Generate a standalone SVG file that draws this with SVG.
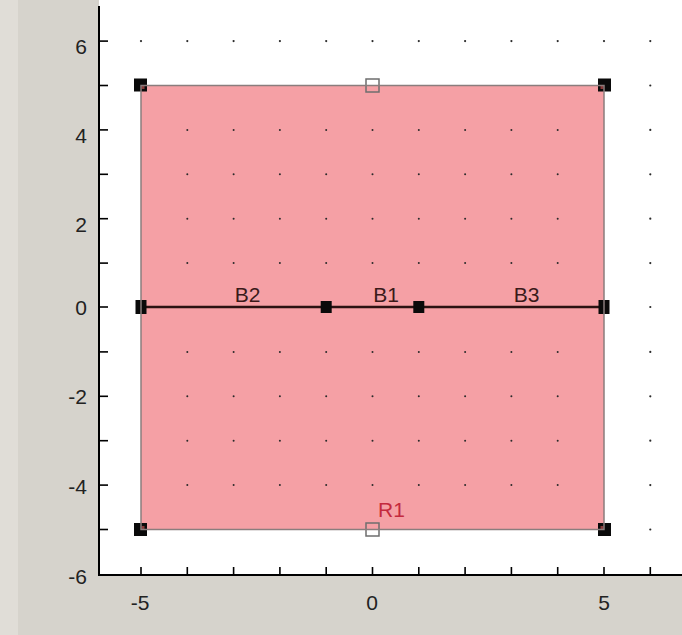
<svg xmlns="http://www.w3.org/2000/svg" width="682" height="635" viewBox="0 0 682 635">
<style>
.dot{fill:#2a2a2a}
.ax{stroke:#000;stroke-width:2;fill:none}
.tk{stroke:#000;stroke-width:1.6}
.al{font-family:"Liberation Sans",Arial,sans-serif;font-size:21px;fill:#222}
.lbl{font-family:"Liberation Sans",Arial,sans-serif;font-size:21px;fill:#3a1a1a;text-anchor:middle}
.hd{fill:#0a0a0a}
.hollow{fill:none;stroke:#6e6e6e;stroke-width:1.5}
.seg{stroke:#2b1212;stroke-width:2.6}
</style>
<!-- background -->
<rect x="0" y="0" width="682" height="635" fill="#d6d3cc"/>
<rect x="0" y="0" width="18" height="635" fill="#e0ddd7"/>
<rect x="99" y="0" width="583" height="575" fill="#ffffff"/>

<!-- outer grid dots -->
<g id="grid-outer">
<circle class="dot" cx="141" cy="41.1" r="1.1"/><circle class="dot" cx="187.3" cy="41.1" r="1.1"/><circle class="dot" cx="233.6" cy="41.1" r="1.1"/><circle class="dot" cx="279.9" cy="41.1" r="1.1"/><circle class="dot" cx="326.2" cy="41.1" r="1.1"/><circle class="dot" cx="372.5" cy="41.1" r="1.1"/><circle class="dot" cx="418.8" cy="41.1" r="1.1"/><circle class="dot" cx="465.1" cy="41.1" r="1.1"/><circle class="dot" cx="511.4" cy="41.1" r="1.1"/><circle class="dot" cx="557.7" cy="41.1" r="1.1"/><circle class="dot" cx="604" cy="41.1" r="1.1"/><circle class="dot" cx="650.3" cy="41.1" r="1.1"/>
<circle class="dot" cx="650.3" cy="85.5" r="1.1"/><circle class="dot" cx="650.3" cy="129.9" r="1.1"/><circle class="dot" cx="650.3" cy="174.3" r="1.1"/><circle class="dot" cx="650.3" cy="218.7" r="1.1"/><circle class="dot" cx="650.3" cy="263.1" r="1.1"/><circle class="dot" cx="650.3" cy="307" r="1.1"/><circle class="dot" cx="650.3" cy="351.9" r="1.1"/><circle class="dot" cx="650.3" cy="396.3" r="1.1"/><circle class="dot" cx="650.3" cy="440.7" r="1.1"/><circle class="dot" cx="650.3" cy="485.1" r="1.1"/><circle class="dot" cx="650.3" cy="529.5" r="1.1"/>
</g>

<!-- axes -->
<g id="axes">
<line class="ax" x1="99" y1="6" x2="99" y2="575"/>
<line class="ax" x1="98" y1="575" x2="682" y2="575"/>
<g class="tk">
<line x1="99" y1="41.1" x2="108" y2="41.1"/><line x1="99" y1="85.5" x2="108" y2="85.5"/><line x1="99" y1="129.9" x2="108" y2="129.9"/><line x1="99" y1="174.3" x2="108" y2="174.3"/><line x1="99" y1="218.7" x2="108" y2="218.7"/><line x1="99" y1="263.1" x2="108" y2="263.1"/><line x1="99" y1="307" x2="108" y2="307"/><line x1="99" y1="351.9" x2="108" y2="351.9"/><line x1="99" y1="396.3" x2="108" y2="396.3"/><line x1="99" y1="440.7" x2="108" y2="440.7"/><line x1="99" y1="485.1" x2="108" y2="485.1"/><line x1="99" y1="529.5" x2="108" y2="529.5"/>
<line x1="141" y1="567" x2="141" y2="575"/><line x1="187.3" y1="567" x2="187.3" y2="575"/><line x1="233.6" y1="567" x2="233.6" y2="575"/><line x1="279.9" y1="567" x2="279.9" y2="575"/><line x1="326.2" y1="567" x2="326.2" y2="575"/><line x1="372.5" y1="567" x2="372.5" y2="575"/><line x1="418.8" y1="567" x2="418.8" y2="575"/><line x1="465.1" y1="567" x2="465.1" y2="575"/><line x1="511.4" y1="567" x2="511.4" y2="575"/><line x1="557.7" y1="567" x2="557.7" y2="575"/><line x1="604" y1="567" x2="604" y2="575"/><line x1="650.3" y1="567" x2="650.3" y2="575"/>
</g>
<g class="al" text-anchor="end">
<text x="87" y="54">6</text>
<text x="87" y="143">4</text>
<text x="87" y="232">2</text>
<text x="87" y="315">0</text>
<text x="87" y="404">-2</text>
<text x="87" y="494">-4</text>
<text x="87" y="584">-6</text>
</g>
<g class="al" text-anchor="middle">
<text x="140" y="610">-5</text>
<text x="372" y="610">0</text>
<text x="604" y="610">5</text>
</g>
</g>

<!-- region R1 -->
<g id="R1">
<rect x="141" y="85.5" width="463" height="444" fill="#f5a0a5"/>
<g id="grid-inner">
<circle class="dot" cx="187.3" cy="129.9" r="1"/><circle class="dot" cx="233.6" cy="129.9" r="1"/><circle class="dot" cx="279.9" cy="129.9" r="1"/><circle class="dot" cx="326.2" cy="129.9" r="1"/><circle class="dot" cx="372.5" cy="129.9" r="1"/><circle class="dot" cx="418.8" cy="129.9" r="1"/><circle class="dot" cx="465.1" cy="129.9" r="1"/><circle class="dot" cx="511.4" cy="129.9" r="1"/><circle class="dot" cx="557.7" cy="129.9" r="1"/>
<circle class="dot" cx="187.3" cy="174.3" r="1"/><circle class="dot" cx="233.6" cy="174.3" r="1"/><circle class="dot" cx="279.9" cy="174.3" r="1"/><circle class="dot" cx="326.2" cy="174.3" r="1"/><circle class="dot" cx="372.5" cy="174.3" r="1"/><circle class="dot" cx="418.8" cy="174.3" r="1"/><circle class="dot" cx="465.1" cy="174.3" r="1"/><circle class="dot" cx="511.4" cy="174.3" r="1"/><circle class="dot" cx="557.7" cy="174.3" r="1"/>
<circle class="dot" cx="187.3" cy="218.7" r="1"/><circle class="dot" cx="233.6" cy="218.7" r="1"/><circle class="dot" cx="279.9" cy="218.7" r="1"/><circle class="dot" cx="326.2" cy="218.7" r="1"/><circle class="dot" cx="372.5" cy="218.7" r="1"/><circle class="dot" cx="418.8" cy="218.7" r="1"/><circle class="dot" cx="465.1" cy="218.7" r="1"/><circle class="dot" cx="511.4" cy="218.7" r="1"/><circle class="dot" cx="557.7" cy="218.7" r="1"/>
<circle class="dot" cx="187.3" cy="263.1" r="1"/><circle class="dot" cx="233.6" cy="263.1" r="1"/><circle class="dot" cx="279.9" cy="263.1" r="1"/><circle class="dot" cx="326.2" cy="263.1" r="1"/><circle class="dot" cx="372.5" cy="263.1" r="1"/><circle class="dot" cx="418.8" cy="263.1" r="1"/><circle class="dot" cx="465.1" cy="263.1" r="1"/><circle class="dot" cx="511.4" cy="263.1" r="1"/><circle class="dot" cx="557.7" cy="263.1" r="1"/>
<circle class="dot" cx="187.3" cy="351.9" r="1"/><circle class="dot" cx="233.6" cy="351.9" r="1"/><circle class="dot" cx="279.9" cy="351.9" r="1"/><circle class="dot" cx="326.2" cy="351.9" r="1"/><circle class="dot" cx="372.5" cy="351.9" r="1"/><circle class="dot" cx="418.8" cy="351.9" r="1"/><circle class="dot" cx="465.1" cy="351.9" r="1"/><circle class="dot" cx="511.4" cy="351.9" r="1"/><circle class="dot" cx="557.7" cy="351.9" r="1"/>
<circle class="dot" cx="187.3" cy="396.3" r="1"/><circle class="dot" cx="233.6" cy="396.3" r="1"/><circle class="dot" cx="279.9" cy="396.3" r="1"/><circle class="dot" cx="326.2" cy="396.3" r="1"/><circle class="dot" cx="372.5" cy="396.3" r="1"/><circle class="dot" cx="418.8" cy="396.3" r="1"/><circle class="dot" cx="465.1" cy="396.3" r="1"/><circle class="dot" cx="511.4" cy="396.3" r="1"/><circle class="dot" cx="557.7" cy="396.3" r="1"/>
<circle class="dot" cx="187.3" cy="440.7" r="1"/><circle class="dot" cx="233.6" cy="440.7" r="1"/><circle class="dot" cx="279.9" cy="440.7" r="1"/><circle class="dot" cx="326.2" cy="440.7" r="1"/><circle class="dot" cx="372.5" cy="440.7" r="1"/><circle class="dot" cx="418.8" cy="440.7" r="1"/><circle class="dot" cx="465.1" cy="440.7" r="1"/><circle class="dot" cx="511.4" cy="440.7" r="1"/><circle class="dot" cx="557.7" cy="440.7" r="1"/>
<circle class="dot" cx="187.3" cy="485.1" r="1"/><circle class="dot" cx="233.6" cy="485.1" r="1"/><circle class="dot" cx="279.9" cy="485.1" r="1"/><circle class="dot" cx="326.2" cy="485.1" r="1"/><circle class="dot" cx="372.5" cy="485.1" r="1"/><circle class="dot" cx="418.8" cy="485.1" r="1"/><circle class="dot" cx="465.1" cy="485.1" r="1"/><circle class="dot" cx="511.4" cy="485.1" r="1"/><circle class="dot" cx="557.7" cy="485.1" r="1"/>
</g>
</g>

<!-- connectors (boundary segments) -->
<g id="connectors">
<line id="B2" class="seg" x1="141" y1="307" x2="326.2" y2="307"/>
<line id="B1" class="seg" x1="326.2" y1="307" x2="418.8" y2="307"/>
<line id="B3" class="seg" x1="418.8" y1="307" x2="604" y2="307"/>
</g>

<!-- vertex nodes -->
<g id="P-corner-tl"><rect class="hd" x="134" y="78.5" width="13" height="13"/><rect x="141.5" y="86" width="3" height="3" fill="#8a3a3a"/></g>
<g id="P-corner-tr"><rect class="hd" x="598" y="78.5" width="13" height="13"/><rect x="600.5" y="86" width="3" height="3" fill="#8a3a3a"/></g>
<g id="P-corner-bl"><rect class="hd" x="134" y="523" width="13" height="13"/><rect x="141.5" y="526" width="3" height="3" fill="#8a3a3a"/></g>
<g id="P-corner-br"><rect class="hd" x="598" y="523" width="13" height="13"/><rect x="600.5" y="526" width="3" height="3" fill="#8a3a3a"/></g>
<g id="P-mid-top"><rect class="hollow" x="366" y="79" width="13" height="13"/></g>
<g id="P-mid-bottom"><rect class="hollow" x="366" y="523" width="13" height="13"/></g>
<g id="P-left"><rect class="hd" x="135.5" y="300" width="11" height="14"/></g>
<g id="P-right"><rect class="hd" x="598.5" y="300" width="11" height="14"/></g>
<g id="P-m1"><rect class="hd" x="320.7" y="301" width="11" height="12"/></g>
<g id="P-p1"><rect class="hd" x="413.3" y="301" width="11" height="12"/></g>

<!-- region border on top -->
<rect x="141" y="85.5" width="463" height="444" fill="none" stroke="#8a7d7d" stroke-width="1.5"/>

<!-- labels -->
<g id="labels">
<text class="lbl" x="247.5" y="302">B2</text>
<text class="lbl" x="386" y="302">B1</text>
<text class="lbl" x="526.5" y="302">B3</text>
<text x="378" y="517" font-family="Liberation Sans, Arial, sans-serif" font-size="21" fill="#c42a3e">R1</text>
</g>
</svg>
